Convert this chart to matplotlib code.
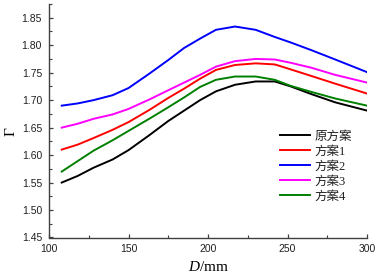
import matplotlib
matplotlib.use("Agg")
import matplotlib.pyplot as plt

D = [108, 118, 128, 140, 150, 163, 175, 185, 195, 205, 217, 230, 242, 252, 265, 280, 300]
original = [1.550, 1.562, 1.577, 1.592, 1.609, 1.636, 1.662, 1.681, 1.700, 1.716, 1.728, 1.734, 1.734, 1.725, 1.711, 1.696, 1.681]
scheme1 = [1.610, 1.619, 1.631, 1.646, 1.660, 1.682, 1.704, 1.721, 1.739, 1.755, 1.764, 1.767, 1.765, 1.756, 1.744, 1.730, 1.712]
scheme2 = [1.690, 1.694, 1.700, 1.709, 1.722, 1.748, 1.773, 1.795, 1.812, 1.828, 1.834, 1.828, 1.815, 1.805, 1.791, 1.774, 1.751]
scheme3 = [1.650, 1.657, 1.666, 1.674, 1.684, 1.701, 1.718, 1.732, 1.746, 1.761, 1.771, 1.775, 1.774, 1.768, 1.759, 1.746, 1.732]
scheme4 = [1.570, 1.589, 1.608, 1.627, 1.644, 1.666, 1.687, 1.705, 1.724, 1.737, 1.743, 1.743, 1.737, 1.726, 1.715, 1.703, 1.690]

labels = ["原方案", "方案1", "方案2", "方案3", "方案4"]
series = [original, scheme1, scheme2, scheme3, scheme4]
colors = ["#000000", "#ff0000", "#0000ff", "#ff00ff", "#008000"]

xticks = [100, 150, 200, 250, 300]
yticks = [1.45, 1.50, 1.55, 1.60, 1.65, 1.70, 1.75, 1.80, 1.85]

plt.rcParams['mathtext.fontset'] = 'custom'
plt.rcParams['mathtext.it'] = 'Liberation Serif:italic'
plt.rcParams['mathtext.rm'] = 'Liberation Serif'

fig = plt.figure(figsize=(3.77, 2.77), dpi=100)
ax = fig.add_axes([49/377, 1-237.5/277, 318/377, 233.5/277])

for vals, c, lab in zip(series, colors, labels):
    ax.plot(D, vals, color=c, lw=1.4, label=lab, solid_joinstyle='round')

ax.set_xlim(100, 300)
ax.set_ylim(1.45, 1.875)
ax.set_xticks(xticks)
ax.set_xticklabels([str(v) for v in xticks])
ax.set_yticks(yticks)
ax.set_yticklabels([f"{v:.2f}" for v in yticks])
ax.set_xticks([125, 175, 225, 275], minor=True)
ax.set_yticks([1.475, 1.525, 1.575, 1.625, 1.675, 1.725, 1.775, 1.825, 1.875], minor=True)

for s in ['top', 'right']:
    ax.spines[s].set_visible(False)
for s in ['left', 'bottom']:
    ax.spines[s].set_color('#404040')
    ax.spines[s].set_linewidth(1.0)

ax.tick_params(which='major', direction='in', length=3, width=0.9, color='#404040',
               labelsize=7.5, labelcolor='#202020')
ax.tick_params(which='minor', direction='in', length=2, width=0.8, color='#404040')
for t in ax.get_xticklabels() + ax.get_yticklabels():
    t.set_fontfamily('Liberation Sans')
ax.tick_params(axis='x', pad=5)
ax.tick_params(axis='y', pad=5)

ax.set_xlabel("$D$/mm", fontsize=11, fontfamily='Liberation Serif')
ax.xaxis.set_label_coords(0.5, -0.095)
ax.set_ylabel("Γ", fontsize=11, fontfamily='Liberation Serif')
ax.yaxis.set_label_coords(-0.098, 0.455)

leg = ax.legend(loc='upper left', bbox_to_anchor=(0.70, 0.495), frameon=False,
                prop={'family': ['Liberation Serif', 'Noto Sans CJK SC'], 'size': 9},
                handlelength=2.4, handletextpad=0.3, labelspacing=0.24, borderpad=0.2)
for t in leg.get_texts():
    t.set_color('#202020')

fig.savefig("out.png", dpi=100)
